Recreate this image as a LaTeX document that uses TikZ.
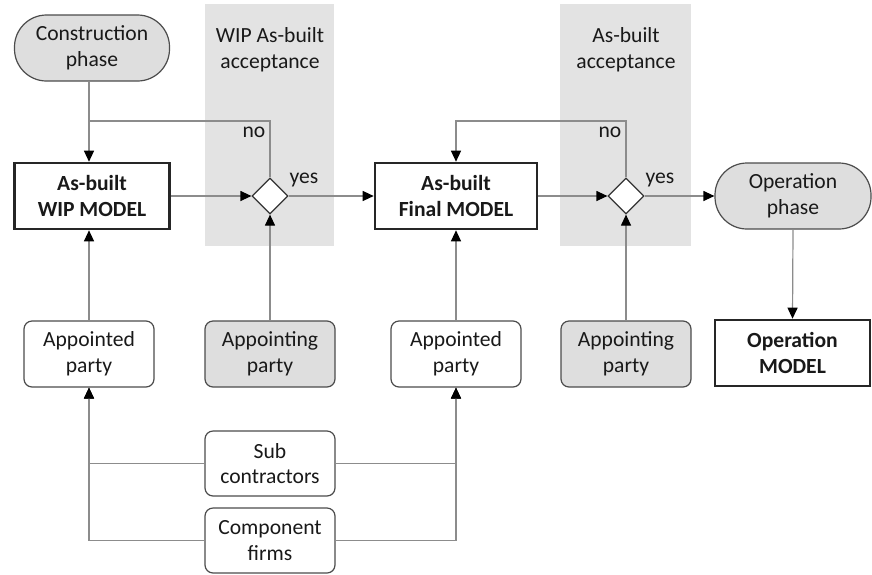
\documentclass[tikz,border=0pt]{standalone}
\usepackage{fontspec}
\setmainfont{Carlito}
\usetikzlibrary{arrows.meta,shapes.geometric}
\begin{document}
\begin{tikzpicture}[x=0.5pt,y=-0.5pt,
  every node/.style={font=\fontsize{10.8}{12.8}\selectfont, align=center, text=black!90},
  band/.style={fill=black!11, draw=none},
  stadium/.style={draw=black!70, fill=black!13, line width=0.6pt, rounded corners=16pt, minimum width=77.5pt, minimum height=33pt, inner sep=0pt},
  model/.style={draw=black!85, fill=white, line width=1.3pt, minimum width=77.5pt, minimum height=33pt, inner sep=0pt, font=\fontsize{10.8}{12.8}\selectfont\bfseries},
  party/.style={draw=black!70, fill=white, line width=0.6pt, rounded corners=4pt, minimum width=65pt, minimum height=33pt, inner sep=0pt},
  gparty/.style={party, fill=black!13},
  dec/.style={diamond, draw=black!80, fill=white, line width=0.6pt, minimum width=18pt, minimum height=18pt, inner sep=0pt},
  conn/.style={draw=black!45, line width=0.6pt},
  arr/.style={conn, -{Triangle[length=5.5pt,width=5pt,color=black]}},
  lbl/.style={inner sep=0pt}
]
\useasboundingbox (0,0) rectangle (872,574);
\fill[band] (205,4) rectangle (334,246);
\fill[band] (560,4) rectangle (691,246);
\node[lbl] (t1) at (270,50) {WIP As-built\\acceptance};
\node[lbl] (t2) at (626,50) {As-built\\acceptance};

\node[stadium] (cons) at (92,48) {Construction\\phase};
\node[model] (wip) at (92,196) {As-built\\WIP MODEL};
\node[dec] (d1) at (270,196) {};
\node[model, minimum width=81pt] (final) at (456,196) {As-built\\Final MODEL};
\node[dec] (d2) at (626,196) {};
\node[stadium, minimum width=78pt] (oper) at (793,196) {Operation\\phase};
\node[model] (opm) at (792.5,353) {Operation\\MODEL};

\node[party] (ap1) at (89,354) {Appointed\\party};
\node[gparty] (ag1) at (270,354) {Appointing\\party};
\node[party] (ap2) at (456,354) {Appointed\\party};
\node[gparty] (ag2) at (626,354) {Appointing\\party};
\node[party, minimum height=32.5pt] (sub) at (270,463.5) {Sub\\contractors};
\node[party, minimum height=32.5pt] (comp) at (270,540.5) {Component\\firms};

\coordinate (n1) at (89,121);
\coordinate (n2) at (456,121);

% top flow
\draw[arr] (cons.south -| n1) -- (wip.north -| n1);
\draw[conn] (d1.north) |- (n1);
\node[lbl] (no1) at (254,132) {no};
\node[lbl] (yes1) at (304,180) {yes};
\draw[arr] (wip.east) -- (d1.west);
\draw[arr] (d1.east) -- (final.west);
\draw[arr] (d2.north) |- (n2) -- (final.north);
\node[lbl] (no2) at (610,132) {no};
\node[lbl] (yes2) at (660,180) {yes};
\draw[arr] (final.east) -- (d2.west);
\draw[arr] (d2.east) -- (oper.west);
\draw[arr] (oper.south) -- (opm.north);

% parties
\draw[arr] (ap1.north) -- (ap1.north |- wip.south);
\draw[arr] (ag1.north) -- (d1.south);
\draw[arr] (ap2.north) -- (final.south);
\draw[arr] (ag2.north) -- (d2.south);

\draw[arr] (sub.west) -| (ap1.south);
\draw[arr] (comp.west) -| (ap1.south);
\draw[arr] (sub.east) -| (ap2.south);
\draw[arr] (comp.east) -| (ap2.south);
\end{tikzpicture}
\end{document}
